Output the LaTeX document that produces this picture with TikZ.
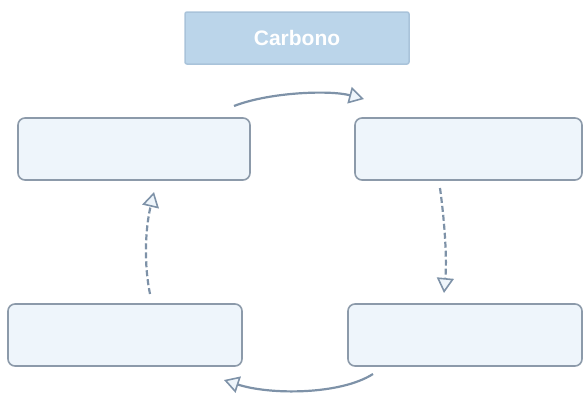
\documentclass[tikz,border=0pt]{standalone}
\usepackage{fontspec}
\setmainfont{Liberation Sans}
\usetikzlibrary{arrows.meta}
\definecolor{boxfill}{HTML}{EEF5FB}
\definecolor{boxline}{HTML}{8C9AAA}
\definecolor{arrowc}{HTML}{7E92A8}
\definecolor{titlefill}{HTML}{BBD5EA}
\definecolor{titleline}{HTML}{A9C3DA}
\tikzset{
  stagebox/.style={draw=boxline, fill=boxfill, line width=1.6pt, rounded corners=7pt, minimum width=232pt, minimum height=62pt, inner sep=0pt},
  titlebox/.style={draw=titleline, fill=titlefill, line width=1.5pt, rounded corners=2pt, minimum width=224pt, minimum height=52pt, inner sep=0pt, font=\bfseries\fontsize{21}{24}\selectfont, text=white},
  cyc/.style={draw=arrowc, line width=2.2pt, -{Triangle[length=15pt,width=17pt,fill=boxfill,line width=1.6pt]}},
  dashcyc/.style={cyc, dash pattern=on 6pt off 3pt},
}
\begin{document}
\begin{tikzpicture}[x=1pt,y=-1pt]
\useasboundingbox (0,0) rectangle (584,400);
\node[titlebox] (title) at (297,38) {Carbono};
\node[stagebox] (tl) at (134,149) {};
\node[stagebox, minimum width=227pt] (tr) at (468.5,149) {};
\node[stagebox, minimum width=234pt] (bl) at (125,335) {};
\node[stagebox, minimum width=234pt] (br) at (465,335) {};
\coordinate (a1) at (234,106);
\coordinate (a2) at (364,99);
\draw[cyc] (a1) .. controls (270,92) and (330,90) .. (a2);
\coordinate (b1) at (440,188);
\coordinate (b2) at (444,293);
\draw[dashcyc] (b1) .. controls (445,225) and (447,260) .. (b2);
\coordinate (c1) at (373,374);
\coordinate (c2) at (224,380);
\draw[cyc] (c1) .. controls (340,395) and (270,395) .. (c2);
\coordinate (d1) at (150,294);
\coordinate (d2) at (154,192);
\draw[dashcyc] (d1) .. controls (144,265) and (145,230) .. (d2);
\end{tikzpicture}
\end{document}
